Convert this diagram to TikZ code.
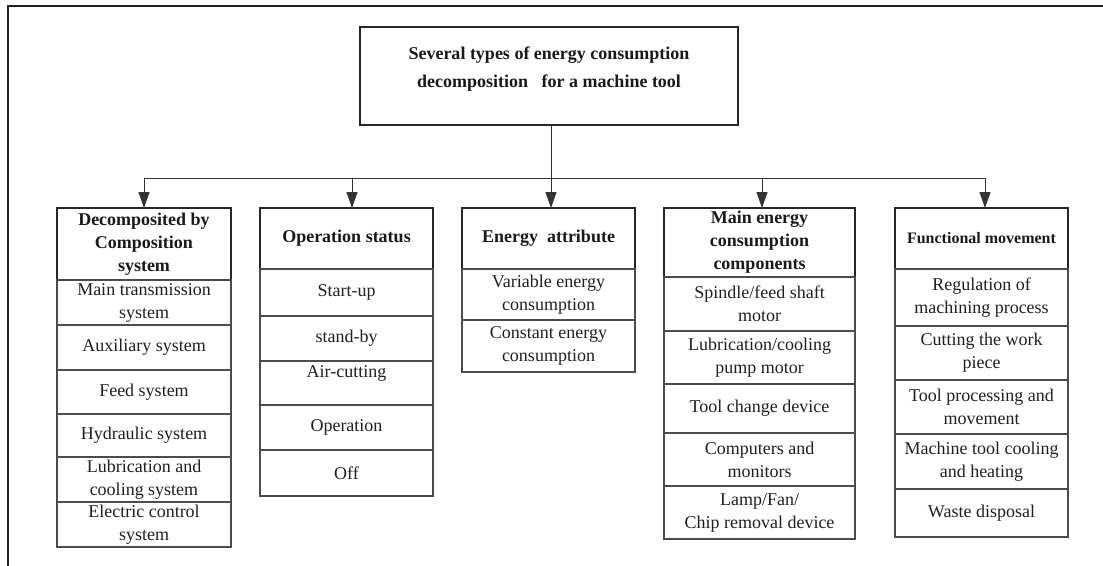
\documentclass[tikz,border=0pt]{standalone}
\usepackage{fontspec}
\setmainfont{Liberation Serif}
\usetikzlibrary{arrows.meta}
\begin{document}
\begin{tikzpicture}[x=1pt,y=-1pt,
  headbox/.style={draw=black!85, line width=1.8pt, rectangle, inner sep=0pt, outer sep=0pt,
    align=center, text=black!90, font=\fontsize{18}{23}\selectfont\bfseries},
  cellbox/.style={draw=black!70, line width=1.1pt, rectangle, inner sep=0pt, outer sep=0pt,
    align=center, text=black!88, font=\fontsize{18}{23}\selectfont},
  link/.style={draw=black!80, line width=1pt},
  arr/.style={link, -{Triangle[length=16pt,width=11pt]}}]
\useasboundingbox (0,0) rectangle (1103,565);
% frame
\draw[draw=black!88, line width=2.2pt] (8,566) -- (8,6) -- (1104,6);
% root
\node[headbox, minimum width=378pt, minimum height=98pt] (title) at (549,76) {};
\node[text=black!90, align=center, font=\fontsize{18}{28}\selectfont\bfseries]
  (titletext) at (549,69) {Several types of energy consumption\\decomposition\ \ \ for a machine tool};
% cell: style, name, x centre, top, bottom, width, text
\newcommand{\tbcell}[7]{\node[#1, minimum width=#6pt, minimum height={(#5-#4)*1pt}] (#2) at (#3,{(#4+#5)/2}) {#7};}
% column 1
\tbcell{headbox}{h1}{144}{208}{280}{174}{Decomposited by\\Composition\\system}
\tbcell{cellbox}{a1}{144}{280}{325}{174}{Main transmission\\system}
\tbcell{cellbox}{a2}{144}{325}{370}{174}{Auxiliary system}
\tbcell{cellbox}{a3}{144}{370}{414}{174}{Feed system}
\tbcell{cellbox}{a4}{144}{414}{457}{174}{Hydraulic system}
\tbcell{cellbox}{a5}{144}{457}{502}{174}{Lubrication and\\cooling system}
\tbcell{cellbox}{a6}{144}{502}{547}{174}{Electric control\\system}
% column 2
\tbcell{headbox}{h2}{346.5}{208}{269}{173}{Operation status}
\tbcell{cellbox}{b1}{346.5}{269}{316}{173}{Start-up}
\tbcell{cellbox}{b2}{346.5}{316}{361}{173}{stand-by}
\tbcell{cellbox}{b3}{346.5}{361}{405}{173}{Air-cutting\\\mbox{}}
\tbcell{cellbox}{b4}{346.5}{405}{450}{173}{Operation}
\tbcell{cellbox}{b5}{346.5}{450}{496}{173}{Off}
% column 3
\tbcell{headbox}{h3}{548.5}{208}{269}{173}{Energy\ \ attribute}
\tbcell{cellbox}{c1}{548.5}{269}{320}{173}{Variable energy\\consumption}
\tbcell{cellbox}{c2}{548.5}{320}{372}{173}{Constant energy\\consumption}
% column 4
\tbcell{headbox}{h4}{759.5}{208}{277}{191}{Main energy\\consumption\\components}
\tbcell{cellbox}{d1}{759.5}{277}{331}{191}{Spindle/feed shaft\\motor}
\tbcell{cellbox}{d2}{759.5}{331}{384}{191}{Lubrication/cooling\\pump motor}
\tbcell{cellbox}{d3}{759.5}{384}{433}{191}{Tool change device}
\tbcell{cellbox}{d4}{759.5}{433}{486}{191}{Computers and\\monitors}
\tbcell{cellbox}{d5}{759.5}{486}{539}{191}{Lamp/Fan/\\Chip removal device}
% column 5
\tbcell{headbox}{h5}{981.5}{208}{269}{173}{\fontsize{16}{20}\selectfont Functional movement}
\tbcell{cellbox}{e1}{981.5}{269}{326}{173}{Regulation of\\machining process}
\tbcell{cellbox}{e2}{981.5}{326}{380}{173}{Cutting the work\\piece}
\tbcell{cellbox}{e3}{981.5}{380}{434}{173}{Tool processing and\\movement}
\tbcell{cellbox}{e4}{981.5}{434}{489}{173}{Machine tool cooling\\and heating}
\tbcell{cellbox}{e5}{981.5}{489}{537}{173}{Waste disposal}
% connectors
\coordinate (j1) at (144,178);
\coordinate (j2) at (352,178);
\coordinate (j3) at (551,178);
\coordinate (j4) at (762,178);
\coordinate (j5) at (985,178);
\draw[link] (title.south -| j3) -- (j3);
\draw[link] (j1) -- (j5);
\draw[arr] (j1) -- (j1 |- h1.north);
\draw[arr] (j2) -- (j2 |- h2.north);
\draw[arr] (j3) -- (j3 |- h3.north);
\draw[arr] (j4) -- (j4 |- h4.north);
\draw[arr] (j5) -- (j5 |- h5.north);
\end{tikzpicture}
\end{document}
